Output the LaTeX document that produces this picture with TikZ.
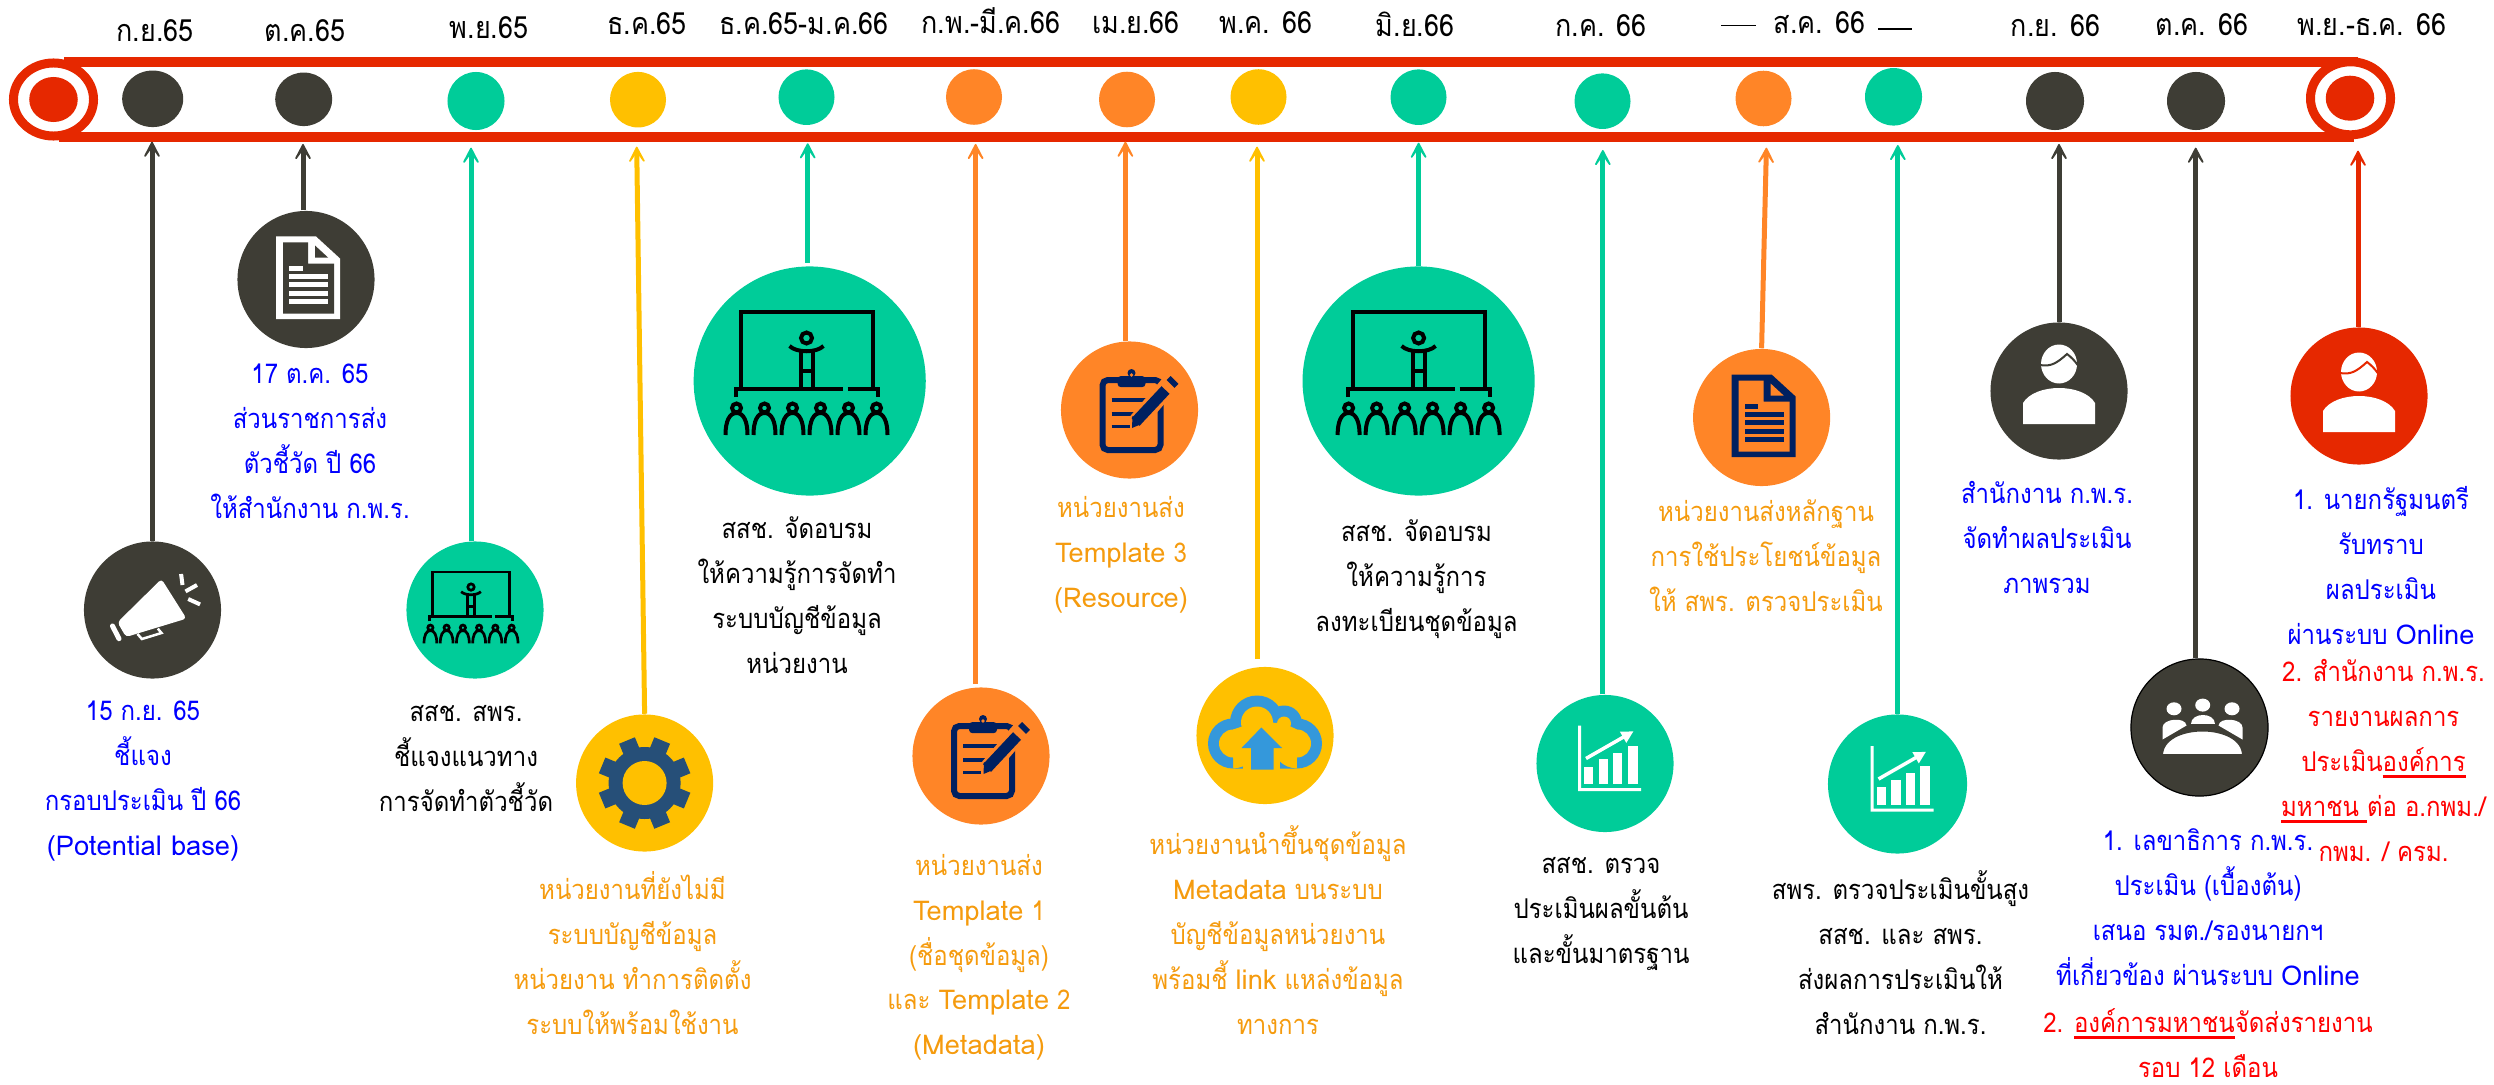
\documentclass[tikz,border=0pt]{standalone}
\usepackage{fontspec}
\usetikzlibrary{arrows.meta,shapes.geometric}
\newfontfamily\thaifont[Script=Thai,FakeStretch=.88]{Loma}
\newfontfamily\latfont{Loma}
\definecolor{cDark}{HTML}{3E3D35}
\definecolor{cGreen}{HTML}{00CC99}
\definecolor{cYellow}{HTML}{FFC000}
\definecolor{cOrange}{HTML}{FF8527}
\definecolor{cRed}{HTML}{E62800}
\definecolor{cNavy}{HTML}{002060}
\definecolor{cGear}{HTML}{264F78}
\definecolor{cCloud}{HTML}{3498DB}
\definecolor{cAmber}{HTML}{F59B0E}
\newcommand{\redline}[1]{\setbox0\hbox{#1}\rlap{\rule[-2pt]{\wd0}{.85pt}}\box0}
\newcommand{\lat}[1]{{\latfont #1}}
\tikzset{
  markdot/.style={ellipse,inner sep=0pt,fill=#1,minimum width=.56cm,minimum height=.555cm},
  hubdisc/.style={ellipse,inner sep=0pt,fill=#1,minimum width=1.37cm,minimum height=1.37cm},
  bighub/.style={ellipse,inner sep=0pt,fill=#1,minimum width=2.32cm,minimum height=2.29cm},
  endring/.style={ellipse,inner sep=0pt,draw=cRed,fill=white,line width=.09cm,minimum width=.8cm,minimum height=.73cm},
  endcore/.style={ellipse,inner sep=0pt,fill=cRed,minimum width=.485cm,minimum height=.45cm},
  monthtxt/.style={anchor=base,inner sep=0pt,font=\thaifont\fontsize{8.7}{10}\selectfont},
  bodytxt/.style={anchor=base,inner sep=0pt,align=center,text=#1,font=\thaifont\fontsize{7.75}{12.78}\selectfont},
  linkarrow/.style={draw=#1,line width=.05cm,-{Stealth[length=.26cm,width=.27cm,inset=.19cm,round]}},
  pics/classroom/.style={code={
    \draw (-66,8) -- (-66,-69) -- (66,-69) -- (66,8);
    \draw (-71,16) -- (-71,8) -- (36,8) (41,8) -- (71,8) -- (71,16);
    \draw (0,-43) circle (5.5);
    \draw (-17,-35) .. controls (-10,-28) and (10,-28) .. (17,-35);
    \draw (-6,8) -- (-6,-29) (6,-29) -- (6,8) (-6,-10) -- (6,-10);
    \foreach \px in {-70,-42,-14,14,42,70}{
      \draw (\px,27) circle (4.5);
      \draw (\px-11,54) .. controls (\px-11,40) and (\px-7,32) .. (\px,32) .. controls (\px+7,32) and (\px+11,40) .. (\px+11,54);
    }
  }},
  pics/docicon/.style 2 args={code={
    \fill[#1] (-30,-43) -- (10,-43) -- (34,-21) -- (34,39.5) -- (-30,39.5) -- cycle;
    \fill[#2] (-23,-37) -- (2,-37) -- (2,-16) -- (28,-16) -- (28,34) -- (-23,34) -- cycle;
    \fill[#2] (9,-34) -- (22,-22) -- (9,-22) -- cycle;
    \fill[#1] (-17,-13.5) rectangle (-3.2,-8.8);
    \fill[#1] (-17,-5.5) rectangle (22,-.5);
    \fill[#1] (-17,2.5) rectangle (22,7.5);
    \fill[#1] (-17,11.5) rectangle (22,16.5);
    \fill[#1] (-17,19.5) rectangle (22,24.5);
  }},
  pics/hornicon/.style={code={
    \fill[white,rounded corners=1pt] (9,-31) -- (34,8.6) -- (-26.5,27) -- (-35,12.3) -- cycle;
    \draw[white,line width=.05cm,line cap=round] (-40,16) -- (-33.5,28.7);
    \draw[white,line width=.025cm] (-15,24) -- (-10.6,29) -- (9,23) -- (5.3,18.6);
    \draw[white,line width=.04cm] (28.6,-36) -- (30,-25) (33,-18.6) -- (44.5,-25) (35.7,-11) -- (47.6,-5.6);
  }},
  pics/gearicon/.style={code={
    \fill[cGear] (0,0) circle (36);
    \foreach \a in {22.5,67.5,...,337.5}{
      \draw[cGear,line width=.17cm] (\a:30) -- (\a:46);
    }
    \fill[cYellow] (0,0) circle (22);
  }},
  pics/padicon/.style={code={
    \draw[cNavy,line width=.06cm,rounded corners=1.5pt] (-27,-30) rectangle (31,40);
    \fill[cNavy,rounded corners=1pt] (-12,-34) rectangle (16,-22.8);
    \fill[cNavy] (2,-37) circle (4);
    \fill[cOrange] (2,-35) circle (1.8);
    \draw[cNavy,line width=.035cm] (-18,-10) -- (17,-10) (-18,4) -- (4,4) (-18,16.4) -- (0,16.4);
    \draw[cOrange,line width=.18cm] (5,15) -- (40,-26);
    \draw[cNavy,line width=.11cm] (6,12) -- (36,-20);
    \draw[cNavy,line width=.11cm] (41,-26) -- (45,-30);
    \fill[cNavy] (2.5,18) -- (3,6) -- (12,14) -- cycle;
  }},
  pics/cloudicon/.style={code={
    \fill[cCloud] (-32,8) circle (25) (-8,-13) circle (27) (19,-12) circle (18) (32,8) circle (25) (-32,-5) rectangle (32,33);
    \fill[cYellow] (-32,8) circle (14) (-8,-13) circle (16) (19,-12) circle (7) (32,8) circle (14);
    \fill[cYellow] (-32,-6) -- (-8,-14) -- (19,-12) -- (32,-6) -- (32,23) -- (-32,23) -- cycle;
    \fill[cYellow] (-22,22) rectangle (15,34);
    \fill[cCloud] (-3.7,-8) -- (17,12.5) -- (8.5,12.5) -- (8.5,34) -- (-14,34) -- (-14,12.5) -- (-23.5,12.5) -- cycle;
  }},
  pics/charticon/.style={code={
    \fill[white] (-27,-38) rectangle (-24,27.5) (-27,24.5) rectangle (36,27.5);
    \fill[white] (-21,3.3) rectangle (-12,20.8);
    \fill[white] (-6.4,-4.2) rectangle (3,20.8);
    \fill[white] (8.4,-11) rectangle (17.4,20.8);
    \fill[white] (22.7,-18) rectangle (32.7,20.8);
    \draw[white,line width=.035cm,-{Triangle[length=.12cm,width=.12cm]}] (-19,-5) -- (28.5,-32.2);
  }},
  pics/groupicon/.style={code={
    \fill[white] (-25.5,-18.7) ellipse (7.5 and 6.5) (3.2,-22.4) ellipse (7.5 and 6.5) (32.5,-18.7) ellipse (7.5 and 6.5);
    \fill[white] (-37,12) -- (-37,0) .. controls (-37,-9) and (-14,-11) .. (-13,-2) -- cycle;
    \fill[white] (43,12) -- (43,0) .. controls (43,-9) and (20,-11) .. (19,-2) -- cycle;
    \fill[white] (-9,-4) .. controls (-9,-16) and (15,-16) .. (15,-4) -- cycle;
    \fill[white,draw=cDark,line width=.03cm] (-38,28) .. controls (-38,-6) and (44,-6) .. (44,28) -- cycle;
  }},
  pics/bodyicon/.style={code={
    \fill[white] (0,-27) ellipse (18 and 19.5);
    \draw[#1,line width=.02cm] (-19,-26) .. controls (-8,-24) and (-2,-28) .. (8,-37) .. controls (12,-34) and (16,-30) .. (18.6,-26);
    \fill[white] (-36,33) -- (-36,12) .. controls (-30,2) and (-15,-3) .. (0,-3) .. controls (15,-3) and (30,2) .. (36,12) -- (36,33) -- cycle;
  }}
}
\begin{document}
\begin{tikzpicture}[x=.01cm,y=-.01cm]
\useasboundingbox (0,0) rectangle (2494,1085);

\fill[cRed] (64,57) rectangle (2358,67);
\fill[cRed] (59,132) rectangle (2354,142);

\node[endring] (ringL) at (53.5,99.5) {};
\node[endcore] (coreL) at (53.5,99.5) {};
\node[endring] (ringR) at (2350.5,98.3) {};
\node[endcore] (coreR) at (2350,98.2) {};

\node[markdot=cDark,minimum width=.61cm,minimum height=.565cm] (d1) at (152.7,98.8) {};
\node[markdot=cDark,minimum width=.57cm,minimum height=.535cm] (d2) at (303.7,99.3) {};
\node[markdot=cGreen,minimum width=.57cm,minimum height=.58cm] (d3) at (476,101) {};
\node[markdot=cYellow] (d4) at (638,99.7) {};
\node[markdot=cGreen] (d5) at (806.5,97.2) {};
\node[markdot=cOrange] (d6) at (974,97) {};
\node[markdot=cOrange] (d7) at (1127,99.5) {};
\node[markdot=cYellow] (d8) at (1258.5,97) {};
\node[markdot=cGreen] (d9) at (1418.5,97.2) {};
\node[markdot=cGreen] (d10) at (1602.5,101.2) {};
\node[markdot=cOrange] (d11) at (1763.5,98.5) {};
\node[markdot=cGreen,minimum width=.57cm,minimum height=.575cm] (d12) at (1893.5,96.8) {};
\node[markdot=cDark,minimum width=.58cm,minimum height=.58cm] (d13) at (2055,101) {};
\node[markdot=cDark,minimum width=.58cm,minimum height=.58cm] (d14) at (2196,101) {};

\node[monthtxt] (m1) at (155,41.7) {ก.ย.65};
\node[monthtxt] (m2) at (305,41.7) {ต.ค.65};
\node[monthtxt] (m3) at (489,38.3) {พ.ย.65};
\node[monthtxt] (m4) at (647,35) {ธ.ค.65};
\node[monthtxt] (m5) at (804,35) {ธ.ค.65-ม.ค.66};
\node[monthtxt] (m6) at (991,33.3) {ก.พ.-มี.ค.66};
\node[monthtxt] (m7) at (1136,33.3) {เม.ย.66};
\node[monthtxt] (m8) at (1266,33.7) {พ.ค. 66};
\node[monthtxt] (m9) at (1415,36.7) {มิ.ย.66};
\node[monthtxt] (m10) at (1601,36.7) {ก.ค. 66};
\node[monthtxt] (m11) at (1819.5,33.3) {ส.ค. 66};
\node[monthtxt] (m12) at (2055.5,36.7) {ก.ย. 66};
\node[monthtxt] (m13) at (2202,36) {ต.ค. 66};
\node[monthtxt] (m14) at (2372,36) {พ.ย.-ธ.ค. 66};
\draw[black,line width=.012cm] (1721,25.3) -- (1756,25.3) (1878,29) -- (1912,29);

% circles below the bar
\node[hubdisc=cDark] (c1) at (152.5,610) {};
\node[hubdisc=cDark] (c2) at (306,279.5) {};
\node[hubdisc=cGreen] (c3) at (475,610) {};
\node[hubdisc=cYellow] (c4) at (644.6,783) {};
\node[bighub=cGreen] (c5) at (809.7,381) {};
\node[hubdisc=cOrange] (c6) at (981,756) {};
\node[hubdisc=cOrange] (c7) at (1129.5,410) {};
\node[hubdisc=cYellow] (c8) at (1265,735.5) {};
\node[bighub=cGreen] (c9) at (1418.6,381) {};
\node[hubdisc=cGreen] (c10) at (1605,763.5) {};
\node[hubdisc=cOrange] (c11) at (1761.6,417.5) {};
\node[hubdisc=cGreen,minimum width=1.39cm,minimum height=1.39cm] (c12) at (1897.5,784) {};
\node[hubdisc=cDark] (c13) at (2059,391) {};
\node[hubdisc=cDark,draw=black,line width=.012cm] (c14) at (2199.5,727.5) {};
\node[hubdisc=cRed] (c15) at (2359,396) {};

\coordinate (t1) at (152,141.7);
\coordinate (t2) at (303,144);
\coordinate (t3) at (471,147.7);
\coordinate (t4) at (636.7,146.7);
\coordinate (t5) at (807.7,143.3);
\coordinate (t6) at (975.6,144);
\coordinate (t7) at (1125.4,141.7);
\coordinate (t8) at (1257,146.7);
\coordinate (t9) at (1418.6,142.7);
\coordinate (t10) at (1602.8,150);
\coordinate (t11) at (1766.4,147.7);
\coordinate (t12) at (1897.8,145);
\coordinate (t13) at (2059,144);
\coordinate (t14) at (2195.7,147.7);
\coordinate (t15) at (2358,150.7);

\draw[linkarrow=cDark] (c1.north -| t1) -- (t1);
\draw[linkarrow=cDark] (c2.north -| t2) -- (t2);
\draw[linkarrow=cGreen] (c3.north -| t3) -- (t3);
\draw[linkarrow=cYellow] (c4.north) -- (t4);
\draw[linkarrow=cGreen,shorten <=.8pt] (c5.north -| t5) -- (t5);
\draw[linkarrow=cOrange,shorten <=.8pt] (c6.north -| t6) -- (t6);
\draw[linkarrow=cOrange] (c7.north -| t7) -- (t7);
\draw[linkarrow=cYellow,shorten <=2pt] (c8.north -| t8) -- (t8);
\draw[linkarrow=cGreen] (c9.north -| t9) -- (t9);
\draw[linkarrow=cGreen] (c10.north -| t10) -- (t10);
\draw[linkarrow=cOrange] (c11.north) -- (t11);
\draw[linkarrow=cGreen] (c12.north -| t12) -- (t12);
\draw[linkarrow=cDark] (c13.north -| t13) -- (t13);
\draw[linkarrow=cDark] (c14.north -| t14) -- (t14);
\draw[linkarrow=cRed] (c15.north -| t15) -- (t15);

% icons
\pic at (c1) {hornicon};
\pic at (c2) {docicon={white}{cDark}};
\pic[scale=.58,line width=.027cm] at (471,612) {classroom};
\pic at (c4) {gearicon};
\pic[line width=.04cm] at (806.5,381) {classroom};
\pic at (c6) {padicon};
\pic at (c7) {padicon};
\pic at (c8) {cloudicon};
\pic[line width=.04cm] at (c9) {classroom};
\pic at (c10) {charticon};
\pic at (c11) {docicon={cNavy}{cOrange}};
\pic at (c12) {charticon};
\pic at (c13) {bodyicon=cDark};
\pic at (c14) {groupicon};
\pic at (2359,399) {bodyicon=cRed};

% labels, placed by the baseline of the last line
\node[bodytxt=blue] (l1) at (143,855.2) {15 ก.ย. 65\\ชี้แจง\\กรอบประเมิน ปี 66\\\lat{(Potential base)}};
\node[bodytxt=blue] (l2) at (310,518) {17 ต.ค. 65\\ส่วนราชการส่ง\\ตัวชี้วัด ปี 66\\ให้สำนักงาน ก.พ.ร.};
\node[bodytxt=black] (l3) at (466,811.6) {สสช. สพร.\\ชี้แจงแนวทาง\\การจัดทำตัวชี้วัด};
\node[bodytxt=cAmber] (l4) at (632.5,1034.7) {หน่วยงานที่ยังไม่มี\\ระบบบัญชีข้อมูล\\หน่วยงาน ทำการติดตั้ง\\ระบบให้พร้อมใช้งาน};
\node[bodytxt=black] (l5) at (797,673.5) {สสช. จัดอบรม\\ให้ความรู้การจัดทำ\\ระบบบัญชีข้อมูล\\หน่วยงาน};
\node[bodytxt=cAmber] (l6) at (1121,607) {หน่วยงานส่ง\\\lat{Template} 3\\\lat{(Resource)}};
\node[bodytxt=cAmber] (l7) at (979,1054.9) {หน่วยงานส่ง\\\lat{Template} 1\\(ชื่อชุดข้อมูล)\\และ \lat{Template} 2\\\lat{(Metadata)}};
\node[bodytxt=cAmber] (l8) at (1278,1034.7) {หน่วยงานนำขึ้นชุดข้อมูล\\\lat{Metadata} บนระบบ\\บัญชีข้อมูลหน่วยงาน\\พร้อมชี้ \lat{link} แหล่งข้อมูล\\ทางการ};
\node[bodytxt=black] (l9) at (1416.5,631.3) {สสช. จัดอบรม\\ให้ความรู้การ\\ลงทะเบียนชุดข้อมูล};
\node[bodytxt=black] (l10) at (1601,963.8) {สสช. ตรวจ\\ประเมินผลขั้นต้น\\และขั้นมาตรฐาน};
\node[bodytxt=cAmber] (l11) at (1766,611.2) {หน่วยงานส่งหลักฐาน\\การใช้ประโยชน์ข้อมูล\\ให้ สพร. ตรวจประเมิน};
\node[bodytxt=black] (l12) at (1900.5,1034.7) {สพร. ตรวจประเมินขั้นสูง\\สสช. และ สพร.\\ส่งผลการประเมินให้\\สำนักงาน ก.พ.ร.};
\node[bodytxt=blue] (l13) at (2047,593.3) {สำนักงาน ก.พ.ร.\\จัดทำผลประเมิน\\ภาพรวม};
\node[bodytxt=blue] (l14) at (2381,644.8) {1. นายกรัฐมนตรี\\รับทราบ\\ผลประเมิน\\ผ่านระบบ \lat{Online}};
\node[bodytxt=red] (l15) at (2383.5,861.2) {2. สำนักงาน ก.พ.ร.\\รายงานผลการ\\ประเมิน\redline{องค์การ}\\\redline{มหาชน }ต่อ อ.กพม./\\กพม. / ครม.};
\node[bodytxt=blue] (l16) at (2208,985.8) {1. เลขาธิการ ก.พ.ร.\\ประเมิน (เบื้องต้น)\\เสนอ รมต./รองนายกฯ\\ที่เกี่ยวข้อง ผ่านระบบ \lat{Online}};
\node[bodytxt=red] (l17) at (2208,1077) {2. \redline{องค์การมหาชน}จัดส่งรายงาน\\รอบ 12 เดือน};
\end{tikzpicture}
\end{document}
